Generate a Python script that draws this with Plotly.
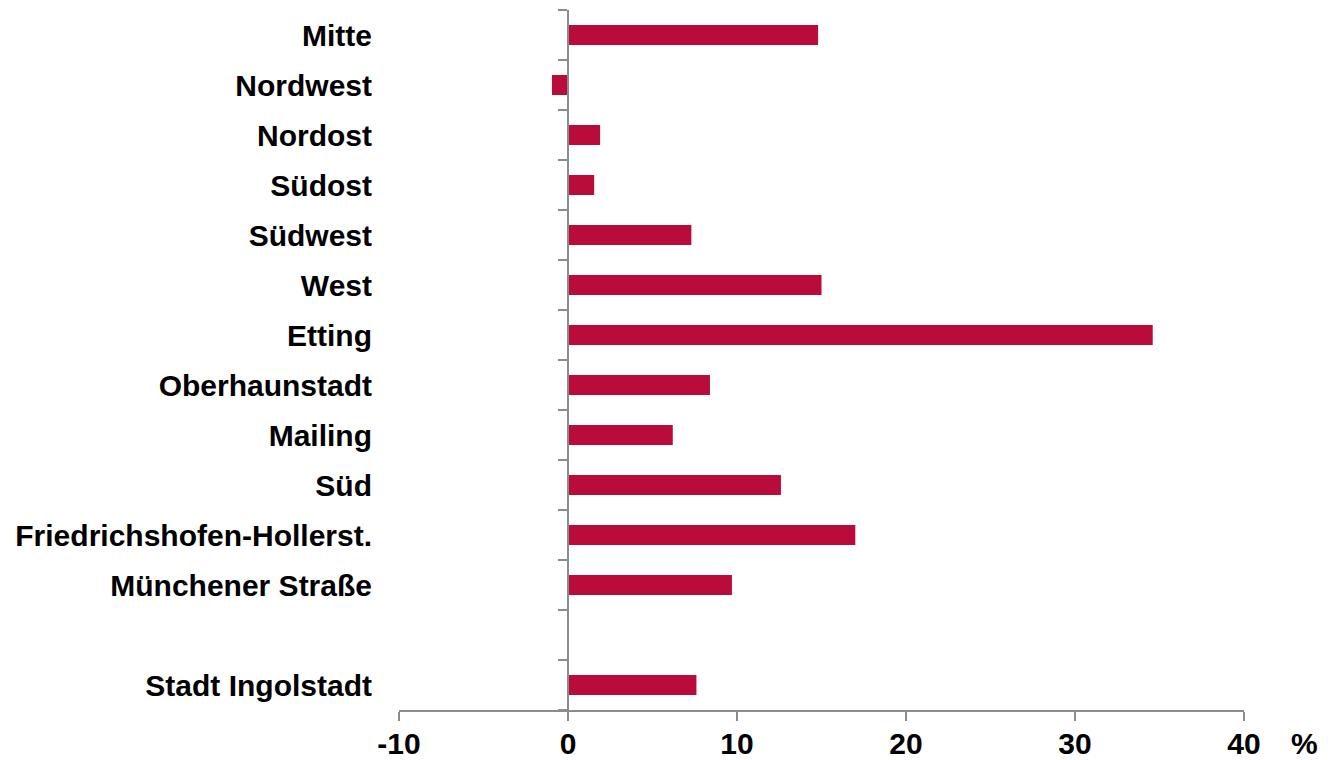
import plotly.graph_objects as go

categories = ["Mitte", "Nordwest", "Nordost", "Südost", "Südwest", "West", "Etting",
              "Oberhaunstadt", "Mailing", "Süd", "Friedrichshofen-Hollerst.",
              "Münchener Straße", "", "Stadt Ingolstadt"]
values = [14.8, -0.95, 1.9, 1.55, 7.3, 15.0, 34.6, 8.4, 6.2, 12.6, 17.0, 9.7, None, 7.6]
x_ticks = [-10, 0, 10, 20, 30, 40]

BAR = "#BA0C3A"
AX = "#8C8C8C"
FONT = "Liberation Sans, Arial, sans-serif"
FS = 30
n = len(categories)
pos = list(range(n))

fig = go.Figure()
fig.add_trace(go.Bar(x=values, y=pos, orientation="h", width=0.4,
                     marker=dict(color=BAR, line=dict(width=0)), showlegend=False))
# invisible trace to host secondary axis (zero-line y axis with boundary ticks)
fig.add_trace(go.Scatter(x=[0], y=[0], yaxis="y2", mode="markers",
                         marker=dict(opacity=0), showlegend=False, hoverinfo="skip"))

fig.update_layout(
    width=1330, height=752,
    margin=dict(l=391, r=94, t=2, b=50, autoexpand=False),
    plot_bgcolor="white", paper_bgcolor="white",
    font=dict(family=FONT, size=FS, color="black"),
    xaxis=dict(range=[-10, 40], tickvals=x_ticks, ticktext=[str(v) for v in x_ticks],
               showgrid=False, zeroline=False, showline=True, linecolor=AX, linewidth=2,
               ticks="outside", ticklen=9, tickwidth=2, tickcolor=AX, automargin=False,
               ticklabelstandoff=-3,
               tickfont=dict(family=FONT, size=FS, color="black", weight="bold"),
               domain=[0, 1]),
    yaxis=dict(range=[n - 0.5, -0.5], tickvals=pos, ticktext=categories,
               showgrid=False, zeroline=False, showline=False, ticks="",
               ticklabelstandoff=26, automargin=False,
               tickfont=dict(family=FONT, size=FS, color="black", weight="bold")),
    yaxis2=dict(range=[n - 0.5, -0.5], overlaying="y", anchor="free", position=0.2,
                side="left", tickvals=[i - 0.5 for i in range(n + 1)],
                showticklabels=False, showgrid=False, zeroline=False, automargin=False,
                showline=True, linecolor=AX, linewidth=2,
                ticks="outside", ticklen=9, tickwidth=2, tickcolor=AX),
    annotations=[dict(text="%", xref="paper", yref="paper", x=1.072, y=0,
                      yshift=-33, xanchor="center", yanchor="middle", showarrow=False,
                      borderpad=0,
                      font=dict(family=FONT, size=FS, color="black", weight="bold"))],
)
fig.write_html("out.html")
